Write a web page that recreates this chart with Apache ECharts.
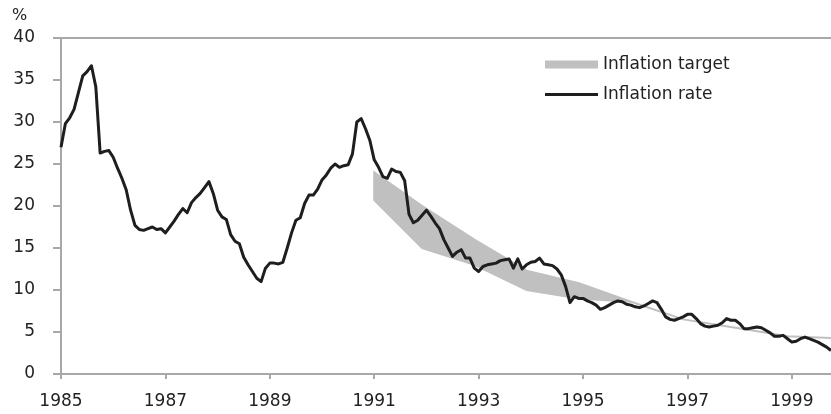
<!DOCTYPE html>
<html>
<head>
<meta charset="utf-8">
<script src="https://cdn.jsdelivr.net/npm/echarts@6/dist/echarts.min.js"></script>
<style>
  html, body { margin: 0; padding: 0; background: #fff; }
  #chart { width: 831px; height: 414px; }
</style>
</head>
<body>
<div id="chart"></div>
<script>
// monthly inflation rate (%), Jan 1985 onwards
const startYear = 1985
const inflationRate = [
  27.0, 29.8, 30.5, 31.5, 33.5, 35.5, 36.0, 36.7, 34.2, 26.3, 26.5, 26.6, // 1985
  25.8, 24.5, 23.3, 21.9, 19.5, 17.7, 17.2, 17.1, 17.3, 17.5, 17.2, 17.3, // 1986
  16.8, 17.5, 18.2, 19.0, 19.7, 19.2, 20.4, 21.0, 21.5, 22.2, 22.9, 21.5, // 1987
  19.5, 18.7, 18.4, 16.6, 15.8, 15.5, 13.9, 13.0, 12.2, 11.4, 11.0, 12.6, // 1988
  13.2, 13.2, 13.1, 13.3, 15.0, 16.8, 18.3, 18.6, 20.3, 21.3, 21.3, 22.0, // 1989
  23.1, 23.7, 24.5, 25.0, 24.6, 24.8, 24.9, 26.2, 30.0, 30.4, 29.2, 27.8, // 1990
  25.5, 24.6, 23.5, 23.3, 24.4, 24.1, 24.0, 23.0, 19.0, 18.0, 18.3, 18.9, // 1991
  19.5, 18.8, 18.0, 17.3, 16.0, 15.0, 14.0, 14.5, 14.8, 13.8, 13.8, 12.6, // 1992
  12.2, 12.8, 13.0, 13.1, 13.2, 13.5, 13.6, 13.7, 12.6, 13.7, 12.5, 13.0, // 1993
  13.3, 13.4, 13.8, 13.1, 13.0, 12.9, 12.5, 11.8, 10.4, 8.5, 9.2, 9.0,    // 1994
  9.0, 8.7, 8.5, 8.2, 7.7, 7.9, 8.2, 8.5, 8.7, 8.6, 8.3, 8.2,             // 1995
  8.0, 7.9, 8.1, 8.4, 8.7, 8.5, 7.7, 6.8, 6.5, 6.4, 6.6, 6.8,             // 1996
  7.1, 7.1, 6.6, 6.0, 5.7, 5.6, 5.7, 5.8, 6.1, 6.6, 6.4, 6.4,             // 1997
  6.0, 5.4, 5.4, 5.5, 5.6, 5.5, 5.2, 4.9, 4.5, 4.5, 4.6, 4.2,             // 1998
  3.8, 3.9, 4.2, 4.4, 4.2, 4.0, 3.8, 3.5, 3.2, 2.8                        // 1999
]

// inflation target band
const targetDates = [1991.0, 1991.92, 1992.92, 1993.92, 1994.92, 1995.92, 1996.92, 1997.92, 1998.92, 1999.75]
const targetLow = [20.7, 15.0, 13.0, 10.0, 9.0, 8.6, 6.5, 5.5, 4.5, 4.3]
const targetHigh = [24.0, 20.0, 16.0, 12.3, 10.8, 8.6, 6.5, 5.5, 4.5, 4.3]

const xTicks = [1985, 1987, 1989, 1991, 1993, 1995, 1997, 1999]

const axisGrey = '#a8a8a8'
const bandGrey = '#c0c0c0'
const lineBlack = '#1e1e1e'
const font = 'DejaVu Sans'

const rateData = inflationRate.map((v, i) => [startYear + i / 12, v])
const bandData = targetDates.map((d, i) => [d, targetLow[i], targetHigh[i]])

// whole band drawn as one polygon: upper edge forward, lower edge back
function renderBand(params, api) {
  if (params.dataIndex !== 0) return
  const upper = bandData.map(r => api.coord([r[0], r[2]]))
  const lower = bandData.map(r => api.coord([r[0], r[1]])).reverse()
  return {
    type: 'polygon',
    shape: { points: upper.concat(lower) },
    style: { fill: bandGrey, stroke: bandGrey, lineWidth: 2 }
  }
}

const chart = echarts.init(document.getElementById('chart'), null, { renderer: 'canvas' })

chart.setOption({
  animation: false,
  backgroundColor: '#fff',
  textStyle: { fontFamily: font },
  grid: { left: 61, right: 0, top: 38, bottom: 40, containLabel: false },
  graphic: [
    { type: 'text', left: 12, top: 8, style: { text: '%', font: '16px "DejaVu Sans"', fill: '#222' } }
  ],
  legend: {
    orient: 'vertical',
    left: 540,
    top: 51,
    itemWidth: 53,
    itemHeight: 8,
    itemGap: 13,
    textStyle: { fontFamily: font, fontSize: 17, color: '#222' },
    data: [
      { name: 'Inflation target', icon: 'rect', itemStyle: { color: bandGrey } },
      { name: 'Inflation rate', icon: 'path://M0,0L52,0L52,3L0,3Z', itemStyle: { color: lineBlack } }
    ]
  },
  xAxis: [
    {
      type: 'value',
      min: 1985,
      max: 1999.75,
      axisLine: { lineStyle: { color: axisGrey, width: 2 } },
      axisTick: { show: true, customValues: xTicks, length: 5, lineStyle: { color: axisGrey, width: 2 } },
      axisLabel: {
        customValues: xTicks,
        margin: 19,
        fontFamily: font,
        fontSize: 17,
        color: '#222',
        formatter: v => String(v)
      },
      splitLine: { show: false }
    },
    {
      type: 'value',
      position: 'top',
      min: 1985,
      max: 1999.75,
      axisLine: { show: true, onZero: false, lineStyle: { color: axisGrey, width: 2 } },
      axisTick: { show: false },
      axisLabel: { show: false },
      splitLine: { show: false }
    }
  ],
  yAxis: {
    type: 'value',
    min: 0,
    max: 40,
    interval: 5,
    axisLine: { show: true, lineStyle: { color: axisGrey, width: 2 } },
    axisTick: { show: true, length: 8, lineStyle: { color: axisGrey, width: 2 } },
    axisLabel: { margin: 26, fontFamily: font, fontSize: 17, color: '#222' },
    splitLine: { show: false }
  },
  series: [
    {
      name: 'Inflation target',
      type: 'custom',
      renderItem: renderBand,
      encode: { x: 0, y: [1, 2] },
      data: bandData,
      itemStyle: { color: bandGrey },
      silent: true,
      z: 1
    },
    {
      name: 'Inflation rate',
      type: 'line',
      data: rateData,
      symbol: 'none',
      lineStyle: { color: lineBlack, width: 3, join: 'round' },
      itemStyle: { color: lineBlack },
      z: 3
    }
  ]
})
</script>
</body>
</html>
